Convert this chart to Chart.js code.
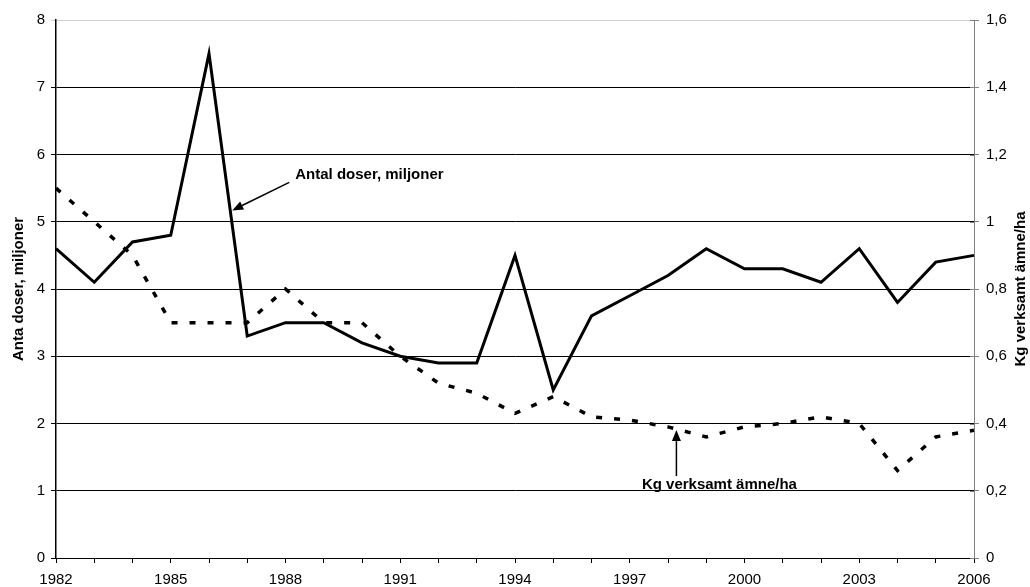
<!DOCTYPE html>
<html>
<head>
<meta charset="utf-8">
<script src="https://cdn.jsdelivr.net/npm/chart.js@4.4.1/dist/chart.umd.min.js"></script>
<style>
  html, body { margin: 0; padding: 0; background: #fff; }
  #wrap { width: 1030px; height: 587px; position: relative; }
</style>
</head>
<body>
<div id="wrap"><canvas id="c" width="1030" height="587"></canvas></div>
<script>
const years = ['1982','1983','1984','1985','1986','1987','1988','1989','1990','1991','1992','1993','1994','1995','1996','1997','1998','1999','2000','2001','2002','2003','2004','2005','2006'];
const antalDoser = [4.6,4.1,4.7,4.8,7.5,3.3,3.5,3.5,3.2,3.0,2.9,2.9,4.5,2.5,3.6,3.9,4.2,4.6,4.3,4.3,4.1,4.6,3.8,4.4,4.5];
const kgPerHa = [1.1,1.0,0.9,0.7,0.7,0.7,0.8,0.7,0.7,0.6,0.52,0.49,0.43,0.48,0.42,0.41,0.39,0.36,0.39,0.40,0.42,0.40,0.26,0.36,0.38];
const leftTitle = 'Anta doser, miljoner';
const rightTitle = 'Kg verksamt ämne/ha';
const label1 = 'Antal doser, miljoner';
const label2 = 'Kg verksamt ämne/ha';

const FONT = '"Liberation Sans", Arial, sans-serif';

function arrow(ctx, x1, y1, x2, y2) {
  const ang = Math.atan2(y2 - y1, x2 - x1);
  const L = 11, W = 4.5;
  ctx.beginPath();
  ctx.moveTo(x1, y1);
  ctx.lineTo(x2 - L * Math.cos(ang), y2 - L * Math.sin(ang));
  ctx.lineWidth = 1.5;
  ctx.strokeStyle = '#000';
  ctx.stroke();
  ctx.beginPath();
  ctx.moveTo(x2, y2);
  ctx.lineTo(x2 - L * Math.cos(ang) + W * Math.sin(ang), y2 - L * Math.sin(ang) - W * Math.cos(ang));
  ctx.lineTo(x2 - L * Math.cos(ang) - W * Math.sin(ang), y2 - L * Math.sin(ang) + W * Math.cos(ang));
  ctx.closePath();
  ctx.fillStyle = '#000';
  ctx.fill();
}

const deco = {
  id: 'deco',
  afterDraw(chart) {
    const ctx = chart.ctx;
    const xs = chart.scales.x, yl = chart.scales.y, yr = chart.scales.y1;
    const ca = chart.chartArea;
    ctx.save();
    // right axis inward ticks
    ctx.strokeStyle = '#808080';
    ctx.lineWidth = 1;
    yr.ticks.forEach(t => {
      const py = Math.round(yr.getPixelForValue(t.value)) + 0.5;
      ctx.beginPath();
      ctx.moveTo(ca.right - 4, py);
      ctx.lineTo(ca.right, py);
      ctx.stroke();
    });
    // axis titles
    ctx.fillStyle = '#000';
    ctx.font = 'bold 15px ' + FONT;
    ctx.textAlign = 'center';
    ctx.textBaseline = 'middle';
    const cy = (ca.top + ca.bottom) / 2;
    ctx.save();
    ctx.translate(19, cy);
    ctx.rotate(-Math.PI / 2);
    ctx.fillText(leftTitle, 0, 0);
    ctx.restore();
    ctx.save();
    ctx.translate(1021, cy);
    ctx.rotate(-Math.PI / 2);
    ctx.fillText(rightTitle, 0, 0);
    ctx.restore();

    // annotation 1: on the 1986-1987 segment
    const t1 = 0.555;
    const ax = xs.getPixelForValue(4) + t1 * (xs.getPixelForValue(5) - xs.getPixelForValue(4)) + 2;
    const ay = yl.getPixelForValue(antalDoser[4] + t1 * (antalDoser[5] - antalDoser[4]));
    arrow(ctx, ax + 57, ay - 28, ax, ay);
    ctx.textAlign = 'left';
    ctx.fillText(label1, ax + 63, ay - 36);

    // annotation 2: on the 1998-1999 segment
    const t2 = 0.22;
    const bx = xs.getPixelForValue(16) + t2 * (xs.getPixelForValue(17) - xs.getPixelForValue(16));
    const by = yr.getPixelForValue(kgPerHa[16] + t2 * (kgPerHa[17] - kgPerHa[16])) + 1;
    arrow(ctx, bx, by + 46, bx, by);
    ctx.textAlign = 'center';
    ctx.fillText(label2, bx + 43, by + 55);
    ctx.restore();
  }
};

new Chart(document.getElementById('c'), {
  type: 'line',
  data: {
    labels: years,
    datasets: [
      {
        label: label2,
        data: kgPerHa,
        yAxisID: 'y1',
        borderColor: '#000',
        borderWidth: 3.5,
        borderDash: [6, 12],
        borderCapStyle: 'butt',
        pointRadius: 0,
        tension: 0,
        fill: false
      },
      {
        label: label1,
        data: antalDoser,
        yAxisID: 'y',
        borderColor: '#000',
        borderWidth: 3,
        borderJoinStyle: 'miter',
        pointRadius: 0,
        tension: 0,
        fill: false
      }
    ]
  },
  options: {
    responsive: false,
    animation: false,
    devicePixelRatio: 1,
    layout: { padding: { top: 20, left: 0, right: 0, bottom: 0 } },
    plugins: { legend: { display: false }, tooltip: { enabled: false } },
    scales: {
      x: {
        type: 'category',
        offset: false,
        afterFit(s) { s.height = 29; },
        grid: { drawOnChartArea: false, drawTicks: true, tickLength: 5, color: '#000', tickColor: '#000' },
        border: { display: true, color: '#000', width: 1 },
        ticks: {
          autoSkip: false, maxRotation: 0, minRotation: 0, padding: 8,
          color: '#000', font: { family: FONT, size: 15 },
          callback(v, i) { return i % 3 === 0 ? years[i] : ''; }
        }
      },
      y: {
        position: 'left',
        min: 0, max: 8,
        afterFit(s) { s.width = 56; },
        grid: {
          color: ctx => (ctx.tick && ctx.tick.value === 8) ? '#d0d0d0' : '#000',
          tickColor: ctx => (ctx.tick && ctx.tick.value === 8) ? '#d0d0d0' : '#000',
          tickLength: 5, lineWidth: 1
        },
        border: { display: true, color: '#000', width: 1.5 },
        ticks: { stepSize: 1, padding: 6, color: '#000', font: { family: FONT, size: 15 } }
      },
      y1: {
        position: 'right',
        min: 0, max: 1.6,
        afterFit(s) { s.width = 56; },
        grid: { drawOnChartArea: false, tickLength: 5, color: '#808080', tickColor: '#808080' },
        border: { display: true, color: '#808080', width: 1 },
        ticks: {
          stepSize: 0.2, padding: 7, color: '#000', font: { family: FONT, size: 15 },
          callback(v) { return (Math.round(v * 10) / 10).toString().replace('.', ','); }
        }
      }
    }
  },
  plugins: [deco]
});
</script>
</body>
</html>
